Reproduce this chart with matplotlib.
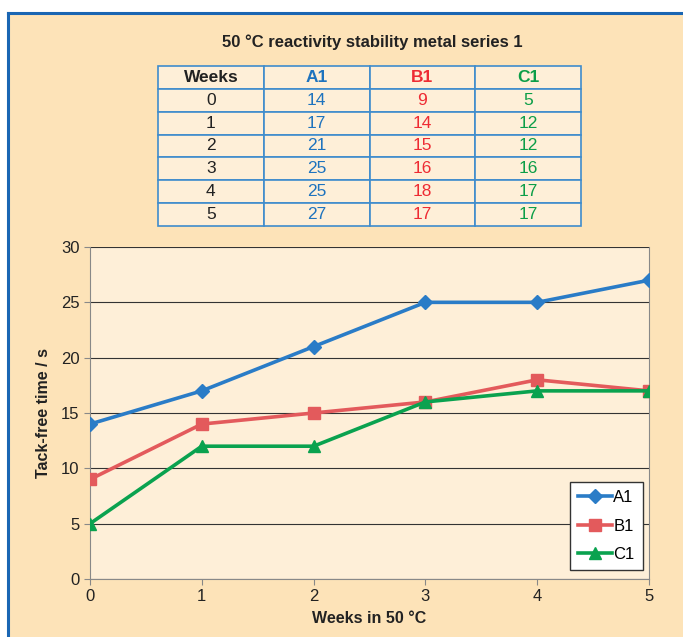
import matplotlib
matplotlib.use('Agg')
import matplotlib.pyplot as plt
from matplotlib.patches import Rectangle
from matplotlib.lines import Line2D

plt.rcParams['font.family'] = ['Liberation Sans', 'DejaVu Sans']

weeks = [0, 1, 2, 3, 4, 5]
a1 = [14, 17, 21, 25, 25, 27]
b1 = [9, 14, 15, 16, 18, 17]
c1 = [5, 12, 12, 16, 17, 17]
series_names = ['A1', 'B1', 'C1']
title = '50 °C reactivity stability metal series 1'

W, H = 683, 637
blue = '#2a7cc7'
red = '#e35a5c'
green = '#0aa24f'
txt_cols = ['#222222', '#1e73be', '#ee2b33', '#0c9e48']

fig = plt.figure(figsize=(W / 100, H / 100), dpi=100)
fig.patch.set_facecolor('white')

# orange panel with blue border on top and left
fig.patches.append(Rectangle((8 / W, 0), 1, (H - 13) / H, transform=fig.transFigure,
                             facecolor='#fde3b8', edgecolor='none', zorder=-10))
fig.add_artist(Line2D([8 / W, 1], [(H - 13) / H] * 2, color='#1a66b3', lw=2.2))
fig.add_artist(Line2D([8 / W] * 2, [0, (H - 13) / H], color='#1a66b3', lw=2.2))

fig.text(372 / W, 1 - 42 / H, title, ha='center', va='center',
         fontsize=12, fontweight='bold', color='#222222')

# data table
tx0, tx1, ty0, ty1 = 158, 581, 66, 226
axt = fig.add_axes([tx0 / W, 1 - ty1 / H, (tx1 - tx0) / W, (ty1 - ty0) / H])
axt.axis('off')
rows = [[str(w), str(a), str(b), str(c)] for w, a, b, c in zip(weeks, a1, b1, c1)]
tbl = axt.table(cellText=rows, colLabels=['Weeks'] + series_names,
                cellLoc='center', bbox=[0, 0, 1, 1])
tbl.auto_set_font_size(False)
for (r, c), cell in tbl.get_celld().items():
    cell.set_facecolor('#feefd8')
    cell.set_edgecolor('#3f8ccc')
    cell.set_linewidth(1.2)
    t = cell.get_text()
    t.set_fontsize(12.5)
    t.set_color(txt_cols[c])
    if r == 0:
        t.set_fontweight('bold')

# line chart
px0, px1, py0, py1 = 90, 649, 247, 579
ax = fig.add_axes([px0 / W, 1 - py1 / H, (px1 - px0) / W, (py1 - py0) / H])
ax.set_facecolor('#feefd8')
ax.plot(weeks, a1, color=blue, lw=2.6, marker='D', ms=7, label='A1', zorder=5)
ax.plot(weeks, b1, color=red, lw=2.6, marker='s', ms=8.5, label='B1', zorder=4)
ax.plot(weeks, c1, color=green, lw=2.6, marker='^', ms=8.5, label='C1', zorder=6)
ax.set_xlim(0, 5)
ax.set_ylim(0, 30)
ax.set_xticks(weeks)
ax.set_yticks(range(0, 31, 5))
ax.yaxis.grid(True, color='#333333', lw=0.8)
ax.set_axisbelow(True)
for s in ['left', 'bottom', 'right']:
    ax.spines[s].set_color('#888888')
ax.spines['top'].set_visible(False)
ax.tick_params(colors='#888888', labelcolor='#222222', labelsize=12, length=4)
ax.set_xlabel('Weeks in 50 °C', fontsize=11.5, fontweight='bold', color='#222222', labelpad=5)
ax.set_ylabel('Tack-free time / s', fontsize=11.5, fontweight='bold', color='#222222', labelpad=7)

leg = ax.legend(loc='upper right', bbox_to_anchor=((643 - px0) / (px1 - px0), (py1 - 482) / (py1 - py0)),
                frameon=True, fancybox=False, fontsize=12, handlelength=2.0,
                borderpad=0.5, labelspacing=0.8, handletextpad=0.1, borderaxespad=0)
leg.get_frame().set_edgecolor('#333333')
leg.get_frame().set_facecolor('white')
leg.get_frame().set_alpha(1)

fig.savefig('out.png', dpi=100)
